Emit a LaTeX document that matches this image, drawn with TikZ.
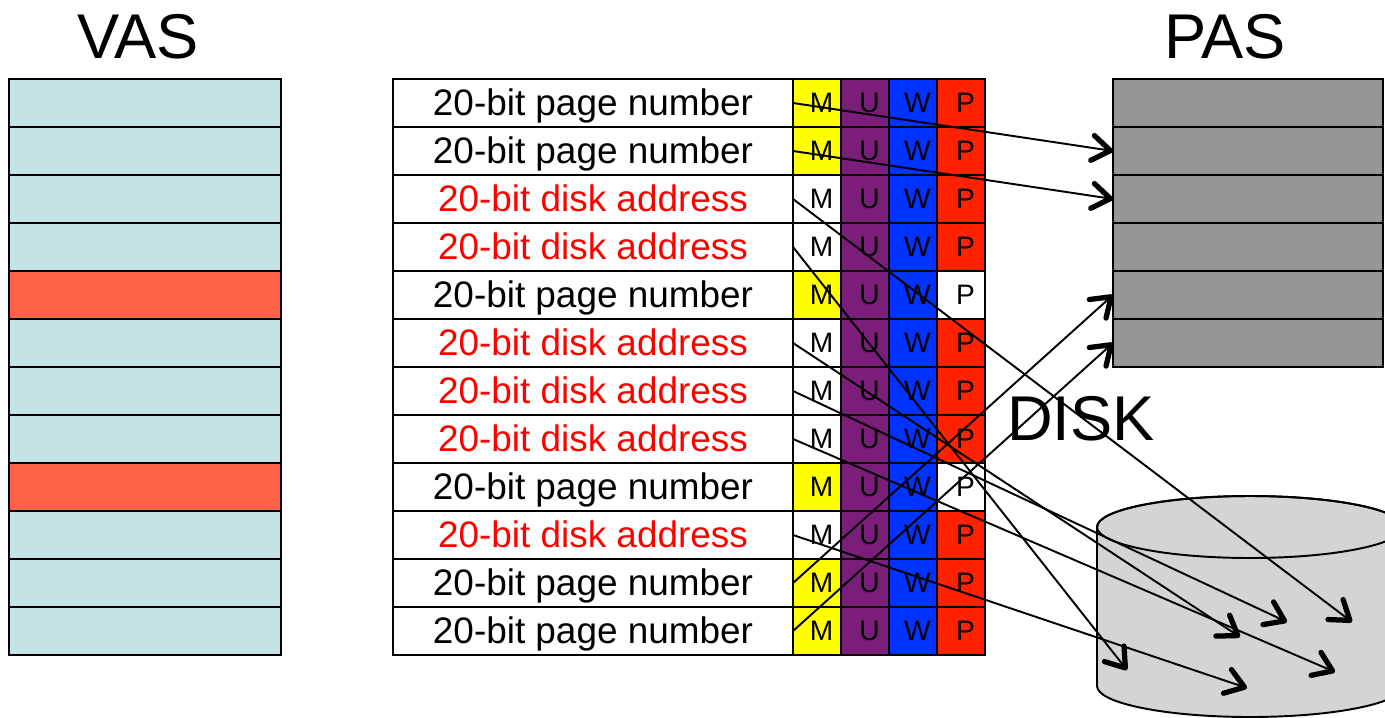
\documentclass[tikz,border=0pt]{standalone}
\usepackage{fontspec}
\setmainfont{Liberation Sans}
\usetikzlibrary{arrows.meta}

\definecolor{vascyan}{RGB}{196,228,230}
\definecolor{vasred}{RGB}{255,99,71}
\definecolor{flagyellow}{RGB}{255,255,0}
\definecolor{flagpurple}{RGB}{123,30,122}
\definecolor{flagblue}{RGB}{0,51,255}
\definecolor{flagred}{RGB}{255,34,0}
\definecolor{pasgray}{RGB}{150,150,150}
\definecolor{diskgray}{RGB}{212,212,212}

\newcommand{\pagenum}{20-bit page number}
\newcommand{\diskaddr}{20-bit disk address}

\begin{document}
\begin{tikzpicture}[x=0.02cm, y=-0.02cm, line width=1.1pt,
	cell/.style = {draw, inner sep=0pt, outer sep=0pt, minimum height=0.96cm, anchor=north west},
	vascell/.style = {cell, minimum width=5.44cm},
	pascell/.style = {cell, minimum width=5.4cm, fill=pasgray},
	entry/.style = {cell, minimum width=8cm, font=\fontsize{21}{25}\selectfont, text height=0.65cm, text depth=0.15cm},
	flagcell/.style = {cell, minimum width=0.96cm, font=\fontsize{16}{19}\selectfont, execute at begin node=\hspace*{0.18cm}},
	heading/.style = {anchor=base, font=\fontsize{36}{43}\selectfont},
	link/.style = {-{Straight Barb[length=0.36cm, width=0.5cm, line width=3pt, round]}}]
	\useasboundingbox (0,0) rectangle (1385,717);

	% virtual address space
	\node [heading] (vastitle) at (138,58) {VAS};
	\foreach \i/\c in {1/vascyan,2/vascyan,3/vascyan,4/vascyan,5/vasred,6/vascyan,
		7/vascyan,8/vascyan,9/vasred,10/vascyan,11/vascyan,12/vascyan}
		\node [vascell, fill=\c] (v\i) at (9,{79+48*(\i-1)}) {};

	% page table with M U W P bits
	\foreach \i/\txt/\tcol/\mcol/\pcol in {1/\pagenum/black/flagyellow/flagred,
		2/\pagenum/black/flagyellow/flagred, 3/\diskaddr/red/white/flagred,
		4/\diskaddr/red/white/flagred, 5/\pagenum/black/flagyellow/white,
		6/\diskaddr/red/white/flagred, 7/\diskaddr/red/white/flagred,
		8/\diskaddr/red/white/flagred, 9/\pagenum/black/flagyellow/white,
		10/\diskaddr/red/white/flagred, 11/\pagenum/black/flagyellow/flagred,
		12/\pagenum/black/flagyellow/flagred}
	{
		\node [entry, text=\tcol] (e\i) at (393,{79+48*(\i-1)}) {\txt};
		\node [flagcell, fill=\mcol] (m\i) at (793,{79+48*(\i-1)}) {M};
		\node [flagcell, fill=flagpurple] (u\i) at (841,{79+48*(\i-1)}) {U};
		\node [flagcell, fill=flagblue] (w\i) at (889,{79+48*(\i-1)}) {W};
		\node [flagcell, fill=\pcol] (f\i) at (937,{79+48*(\i-1)}) {P};
	}

	% physical address space
	\node [heading] (pastitle) at (1225,58) {PAS};
	\foreach \i in {1,...,6}
		\node [pascell] (p\i) at (1113,{79+48*(\i-1)}) {};

	% disk
	\begin{scope}
		\clip (0,0) rectangle (1385,717);
		\filldraw [fill=diskgray] (1097,527) -- (1097,686)
			arc [start angle=180, end angle=360, x radius=3.06cm, y radius=0.62cm] -- (1403,527)
			arc [start angle=0, end angle=180, x radius=3.06cm, y radius=0.62cm] -- cycle;
		\draw (1250,527) ellipse [x radius=3.06cm, y radius=0.62cm];
	\end{scope}
	\node [heading] (disktitle) at (1081,440) {DISK};
	\coordinate (dA) at (1287,622);
	\coordinate (dB) at (1352,622);
	\coordinate (dC) at (1240,637);
	\coordinate (dD) at (1335,672);
	\coordinate (dE) at (1127,670);
	\coordinate (dF) at (1247,688);

	% resident pages
	\draw [link] (m1.west) -- (p2.west);
	\draw [link] (m2.west) -- (p3.west);
	\draw [link] (m11.west) -- (p5.west);
	\draw [link] (m12.west) -- (p6.west);
	% pages on disk
	\draw [link] (m3.west) -- (dB);
	\draw [link] (m4.west) -- (dE);
	\draw [link] (m6.west) -- (dC);
	\draw [link] (m7.west) -- (dA);
	\draw [link] (m8.west) -- (dD);
	\draw [link] (m10.west) -- (dF);
\end{tikzpicture}
\end{document}
